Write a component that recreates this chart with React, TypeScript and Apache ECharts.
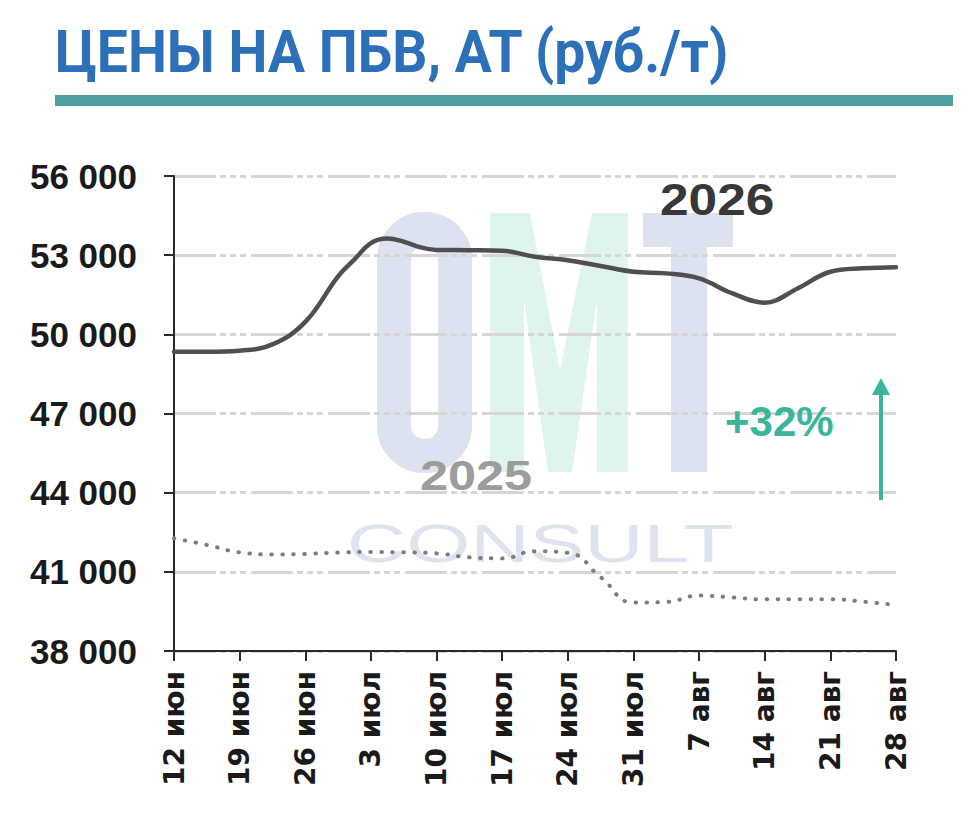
import React, { useEffect, useRef } from "react";
import * as echarts from "echarts";

const categories = ["12 июн", "19 июн", "26 июн", "3 июл", "10 июл", "17 июл", "24 июл", "31 июл", "7 авг", "14 авг", "21 авг", "28 авг"];
// sample positions on the week axis (0 = 12 июн ... 11 = 28 авг)
const pos2026 = [0, 0.5, 1, 1.5, 2, 2.5, 2.75, 3, 3.25, 3.5, 3.75, 4, 4.5, 5, 5.5, 6, 6.5, 7, 7.5, 8, 8.5, 9, 9.5, 10, 10.5, 11];
const prices2026 = [49340, 49340, 49380, 49620, 50470, 52200, 52840, 53460, 53630, 53510, 53300, 53200, 53190, 53170, 52940, 52810, 52590, 52370, 52310, 52120, 51560, 51200, 51740, 52370, 52500, 52540];
const pos2025 = [0, 0.5, 1, 1.5, 2, 2.5, 3, 3.5, 4, 4.5, 5, 5.5, 6, 6.5, 7, 7.5, 8, 8.5, 9, 9.5, 10, 10.5, 11];
const prices2025 = [42270, 42020, 41740, 41660, 41680, 41730, 41750, 41740, 41700, 41550, 41510, 41780, 41720, 40800, 39840, 39860, 40100, 40030, 39960, 39960, 39960, 39870, 39740];
const yMin = 38000;
const yMax = 56000;
const yStep = 3000;

const fmt = (v: number) => String(Math.round(v)).replace(/\B(?=(\d{3})+(?!\d))/g, " ");

export default function App() {
  const ref = useRef<HTMLDivElement>(null);
  useEffect(() => {
    if (!ref.current) return;
    const chart = echarts.init(ref.current, null, { renderer: "svg" });
    const toPairs = (pos: number[], vals: number[]) => vals.map((v, i) => [pos[i], v - yMin]);
    const wmBlue = "#dde2f1";
    const wmMint = "#e0f4ee";
    const teal = "#3ab59c";
    chart.setOption({
      animation: false,
      backgroundColor: "#ffffff",
      grid: { left: 174, right: 77, top: 176, bottom: 178 },
      xAxis: {
        type: "value",
        min: 0,
        max: categories.length - 1,
        interval: 1,
        axisLine: { show: true, onZero: false, lineStyle: { color: "#2a2a2a", width: 2 } },
        axisTick: { show: true, length: 10, lineStyle: { color: "#2a2a2a", width: 2 } },
        splitLine: { show: false },
        axisLabel: {
          rotate: 90,
          margin: 20,
          formatter: (v: number) => categories[Math.round(v)] ?? "",
          fontFamily: "DejaVu Sans",
          fontWeight: "bold",
          fontSize: 28,
          color: "#1a1a1a",
        },
      },
      yAxis: {
        type: "value",
        min: 0,
        max: yMax - yMin,
        interval: yStep,
        axisLine: { show: true, lineStyle: { color: "#2a2a2a", width: 2 } },
        axisTick: { show: true, length: 10, lineStyle: { color: "#2a2a2a", width: 2 } },
        splitLine: { show: true, lineStyle: { color: "#d6d6d6", width: 3, type: [42, 4, 6, 4, 6, 4, 6, 5] } },
        axisLabel: {
          margin: 37,
          formatter: (v: number) => fmt(v + yMin),
          fontFamily: "Liberation Sans",
          fontWeight: "bold",
          fontSize: 35,
          color: "#1a1a1a",
        },
      },
      graphic: [
        // title
        {
          type: "text", x: 55, y: 52, scaleX: 0.92, z: 10,
          style: { text: "ЦЕНЫ НА ПБВ, АТ (руб./т)", font: "bold 60px Roboto", fill: "#2b70b9", textAlign: "left", textVerticalAlign: "middle" },
        },
        { type: "rect", shape: { x: 55, y: 95, width: 898, height: 11 }, style: { fill: "#4e9fa0" }, z: 10 },
        // watermark O
        { type: "rect", z: -1, shape: { x: 394, y: 229, width: 61, height: 227, r: 30 }, style: { fill: "none", stroke: wmBlue, lineWidth: 34 } },
        // watermark M
        {
          type: "polygon", z: -1,
          shape: { points: [[490, 213], [530, 213], [560, 370], [592, 213], [628, 213], [628, 472], [597, 472], [597, 300], [572, 472], [548, 472], [524, 300], [524, 472], [490, 472]] },
          style: { fill: wmMint },
        },
        // watermark T
        { type: "rect", z: -1, shape: { x: 643, y: 213, width: 90, height: 34 }, style: { fill: wmBlue } },
        { type: "rect", z: -1, shape: { x: 671, y: 247, width: 36, height: 225 }, style: { fill: wmBlue } },
        // CONSULT
        {
          type: "text", x: 347, y: 544, scaleX: 1.55, z: -1,
          style: { text: "CONSULT", font: "53px 'Liberation Sans'", fill: "#dfe3f0", textAlign: "left", textVerticalAlign: "middle" },
        },
        // annotations
        {
          type: "text", x: 660, y: 200, scaleX: 1.17, z: 10,
          style: { text: "2026", font: "bold 44px 'Liberation Sans'", fill: "#383838", textAlign: "left", textVerticalAlign: "middle" },
        },
        {
          type: "text", x: 420, y: 476, scaleX: 1.2, z: 10,
          style: { text: "2025", font: "bold 42px 'Liberation Sans'", fill: "#9c9c9c", textAlign: "left", textVerticalAlign: "middle" },
        },
        {
          type: "text", x: 725, y: 421, z: 10,
          style: { text: "+32%", font: "bold 42px 'Liberation Sans'", fill: teal, textAlign: "left", textVerticalAlign: "middle" },
        },
        { type: "line", z: 10, shape: { x1: 881, y1: 500, x2: 881, y2: 390 }, style: { stroke: teal, lineWidth: 4 } },
        { type: "polygon", z: 10, shape: { points: [[872, 395], [881, 378], [890, 395]] }, style: { fill: teal } },
      ],
      series: [
        {
          name: "2025",
          type: "line",
          data: toPairs(pos2025, prices2025),
          smooth: 0.5,
          showSymbol: false,
          lineStyle: { color: "#7d7d7d", width: 4, type: [0.5, 10.5], cap: "round" },
          z: 3,
        },
        {
          name: "2026",
          type: "line",
          data: toPairs(pos2026, prices2026),
          smooth: 0.4,
          showSymbol: false,
          lineStyle: { color: "#4f4f4f", width: 4.5, cap: "round" },
          z: 4,
        },
      ],
    });
    return () => chart.dispose();
  }, []);
  return <div ref={ref} style={{ position: "fixed", left: 0, top: 0, width: 973, height: 829 }} />;
}
